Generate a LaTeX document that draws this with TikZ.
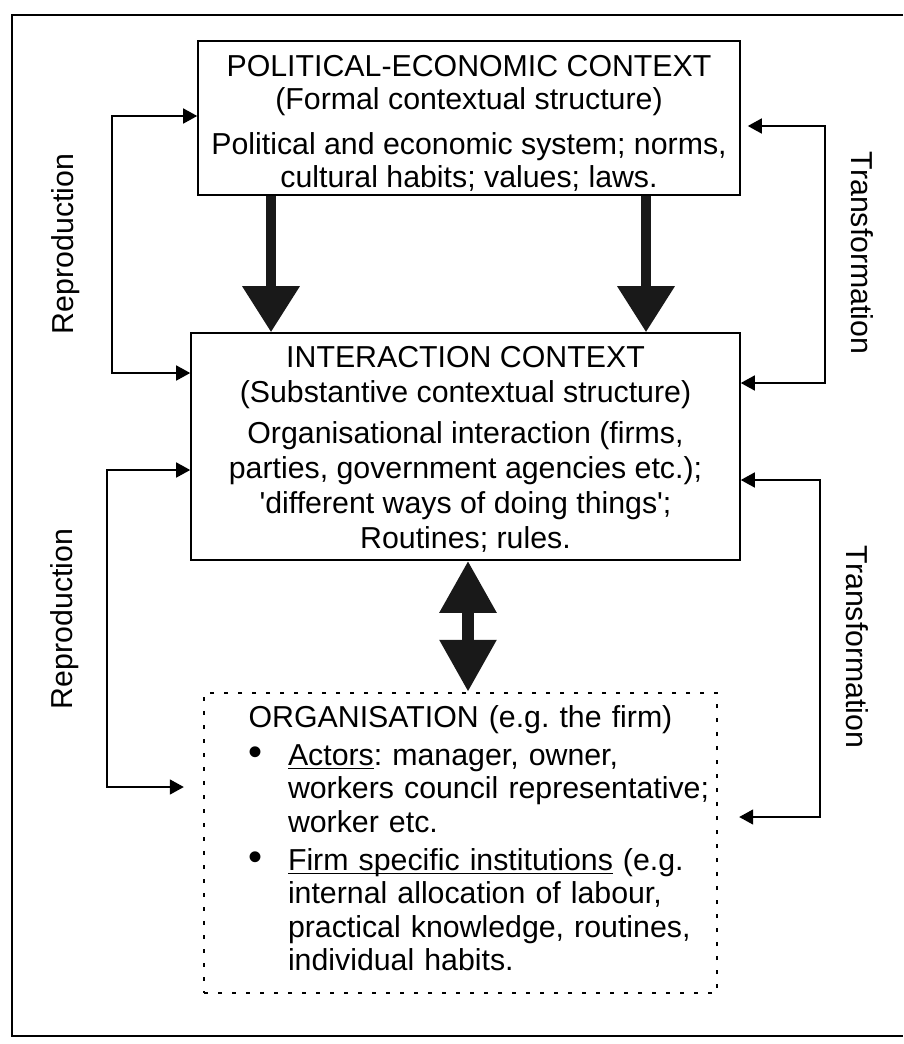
\documentclass[tikz,border=0pt]{standalone}
\usepackage{fontspec}
\setmainfont{Liberation Sans}
\usetikzlibrary{arrows.meta}
\newcommand{\undl}[1]{\setbox0=\hbox{#1}\rlap{\rule[-4pt]{\wd0}{1.6pt}}\box0\relax}
\newcommand{\bul}{\makebox[40pt][l]{\fontsize{40}{33.5}\selectfont\textbullet}}

\begin{document}
\frenchspacing
\begin{tikzpicture}[x=1pt, y=-1pt,
  every node/.style={font=\fontsize{30.3}{33}\selectfont},
  box/.style={draw, line width=1.6pt, inner sep=0pt, align=center},
  fb/.style={line width=1.6pt, {Triangle[length=14pt,width=15pt]}-{Triangle[length=14pt,width=15pt]}},
  big/.style={line width=10pt, black!90, -{Triangle[length=46pt,width=55pt]}}]
\useasboundingbox (0,0) rectangle (903,1044);
\draw[line width=2pt] (903,15) -- (12,15) -- (12,1036) -- (903,1036);

\node[box, minimum width=542pt, minimum height=154pt] (PE) at (469,118)
  {\rule{0pt}{31pt}POLITICAL-ECONOMIC CONTEXT\\ (Formal contextual structure)\\[12pt]
   Political and economic system; norms,\\ cultural habits; values; laws.};
\node[box, minimum width=549pt, minimum height=227pt, font=\fontsize{30.3}{35}\selectfont] (IC) at (465.5,446.5)
  {\rule{0pt}{26pt}INTERACTION CONTEXT\\ (Substantive contextual structure)\\[6pt]
   Organisational interaction (firms,\\ parties, government agencies etc.);\\
   \textquotesingle different ways of doing things\textquotesingle;\\ Routines; rules.};
\node[box, dash pattern=on 4pt off 10pt, line width=2.4pt, minimum width=513pt, minimum height=300pt,
  text width=513pt, align=left, font=\fontsize{30.3}{33.5}\selectfont] (OR) at (460.5,843)
  {\parindent=0pt \parskip=0pt
   {\centering ORGANISATION (e.g. the firm)\par}
   \parskip=4.5pt \leftskip=44pt
   \hangindent=40pt \hangafter=1
   \bul\undl{Actors}: manager, owner,\newline
   workers council representative;\newline worker etc.\par
   \hangindent=40pt \hangafter=1
   \bul\undl{Firm specific institutions} (e.g.\newline
   internal allocation of labour,\newline practical knowledge, routines,\newline
   individual habits.\rule[-10pt]{0pt}{10pt}\par};

\node[rotate=90] (RP1) at (66,244) {Reproduction};
\node[rotate=90] (RP2) at (65,619) {Reproduction};
\node[rotate=-90] (TR1) at (862,253) {Transformation};
\node[rotate=-90] (TR2) at (857,647) {Transformation};

\coordinate (AL) at (271,0);
\coordinate (AR) at (646,0);
\coordinate (AD) at (468,0);
\draw[big] (AL |- PE.south) -- (AL |- IC.north);
\draw[big] (AR |- PE.south) -- (AR |- IC.north);
\draw[big, line width=12pt, {Triangle[length=52pt,width=54pt]}-{Triangle[length=52pt,width=54pt]}]
  (AD |- IC.south) -- (AD |- OR.north);

\coordinate (L1) at (112,116);
\coordinate (L2) at (112,373);
\coordinate (L3) at (107,470);
\coordinate (L4) at (107,787);
\coordinate (R1) at (825,126);
\coordinate (R2) at (825,383);
\coordinate (R3) at (820,480);
\coordinate (R4) at (820,817);
\draw[fb] (L1 -| PE.west) -- (L1) -- (L2) -- (L2 -| IC.west);
\draw[fb, shorten >=19pt] (L3 -| IC.west) -- (L3) -- (L4) -- (L4 -| OR.west);
\draw[fb, shorten <=7pt] (R1 -| PE.east) -- (R1) -- (R2) -- (R2 -| IC.east);
\draw[fb, shorten >=21pt] (R3 -| IC.east) -- (R3) -- (R4) -- (R4 -| OR.east);
\end{tikzpicture}
\end{document}
